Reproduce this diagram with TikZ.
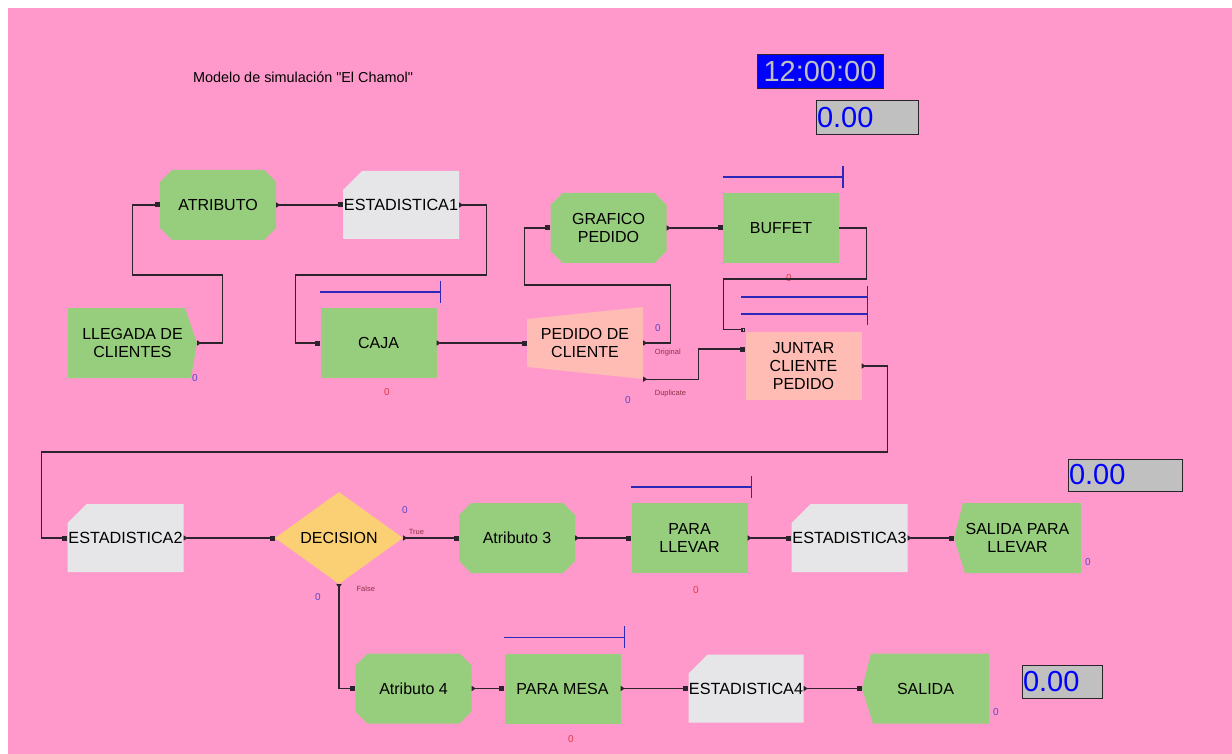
\documentclass[tikz,border=0pt]{standalone}
\usepackage{fontspec}
\setmainfont{Liberation Sans}
\usetikzlibrary{arrows.meta,shapes.geometric}

\definecolor{fondo}{RGB}{255,153,204}
\definecolor{verde}{RGB}{151,206,125}
\definecolor{gris}{RGB}{230,230,232}
\definecolor{salmon}{RGB}{255,188,180}
\definecolor{amarillo}{RGB}{251,208,116}
\definecolor{linea}{RGB}{45,35,45}
\definecolor{recursocol}{RGB}{45,40,185}
\definecolor{contaz}{RGB}{90,70,200}
\definecolor{controj}{RGB}{220,60,70}
\definecolor{etiq}{RGB}{140,50,70}
\definecolor{pantalla}{RGB}{192,192,192}

\begin{document}
\begin{tikzpicture}[x=1pt,y=-1pt,
  bloque/.style={rectangle,minimum width=116pt,minimum height=70pt,inner sep=0pt,align=center,font=\fontsize{16}{18}\selectfont},
  proceso/.style={bloque,fill=verde},
  asignar/.style={bloque,path picture={\fill[verde] ([xshift=12pt]path picture bounding box.north west) -- ([xshift=-12pt]path picture bounding box.north east) -- ([yshift=-12pt]path picture bounding box.north east) -- ([yshift=12pt]path picture bounding box.south east) -- ([xshift=-12pt]path picture bounding box.south east) -- ([xshift=12pt]path picture bounding box.south west) -- ([yshift=12pt]path picture bounding box.south west) -- ([yshift=-12pt]path picture bounding box.north west) -- cycle;}},
  registro/.style={bloque,minimum height=68pt,font=\fontsize{16.2}{18}\selectfont,path picture={\fill[gris] ([xshift=19pt]path picture bounding box.north west) -- (path picture bounding box.north east) -- (path picture bounding box.south east) -- (path picture bounding box.south west) -- ([yshift=-19pt]path picture bounding box.north west) -- cycle;}},
  llegar/.style={bloque,minimum width=129pt,path picture={\fill[verde] (path picture bounding box.north west) -- ([xshift=-12pt]path picture bounding box.north east) -- (path picture bounding box.east) -- ([xshift=-6pt]path picture bounding box.south east) -- (path picture bounding box.south west) -- cycle;}},
  salir/.style={bloque,minimum width=127pt,path picture={\fill[verde] ([xshift=9pt]path picture bounding box.north west) -- (path picture bounding box.north east) -- (path picture bounding box.south east) -- ([xshift=11pt]path picture bounding box.south west) -- (path picture bounding box.west) -- cycle;}},
  separar/.style={bloque,minimum height=72pt,path picture={\fill[salmon] ([yshift=-12pt]path picture bounding box.north west) -- (path picture bounding box.north east) -- (path picture bounding box.south east) -- ([yshift=12pt]path picture bounding box.south west) -- cycle;}},
  juntar/.style={bloque,minimum height=68pt,fill=salmon},
  decide/.style={diamond,aspect=1.4,minimum width=128pt,minimum height=92pt,inner sep=0pt,fill=amarillo,font=\fontsize{16}{18}\selectfont},
  conn/.style={linea,line width=1.3pt,{Triangle[reversed,length=4pt,width=5pt]}-{Square[length=5pt,width=5pt]}},
  recurso/.style={recursocol,line width=1.5pt},
  etiqueta/.style={etiq,font=\fontsize{7.5}{8}\selectfont,inner sep=0pt,anchor=west},
  cuenta/.style={font=\fontsize{10}{10}\selectfont,inner sep=0pt},
  pantallita/.style={fill=pantalla,draw=linea,line width=1pt,minimum height=34pt,inner xsep=1pt,inner ysep=0pt,align=left,text=blue,font=\fontsize{29}{30}\selectfont}
]
\fill[white] (0,0) rectangle (1232,754);
\useasboundingbox (0,0) rectangle (1232,754);
\fill[fondo] (8,8) rectangle (1232,754);

% titulo y relojes
\node[font=\fontsize{14.4}{15}\selectfont,inner sep=0pt] (titulo) at (303,77) {Modelo de simulación \textquotedbl El Chamol\textquotedbl};
\node[fill=blue,draw=linea,line width=1pt,minimum width=126pt,minimum height=34pt,inner sep=0pt,text=pantalla,font=\fontsize{29}{30}\selectfont] (reloj) at (820,72) {12:00:00};
\node[pantallita,text width=100pt] (valor1) at (867,118) {0.00};
\node[pantallita,text width=112pt,minimum height=32pt] (valor2) at (1125,475) {0.00};
\node[pantallita,text width=78pt,minimum height=33pt] (valor3) at (1062,681.5) {0.00};

% primera fila
\node[llegar] (llegada) at (132.5,343) {LLEGADA DE\\CLIENTES};
\node[asignar] (atributo) at (218,205) {ATRIBUTO};
\node[registro] (est1) at (401,205) {ESTADISTICA1};
\node[proceso] (caja) at (378.5,343) {CAJA};
\node[separar] (pedido) at (585,343) {PEDIDO DE\\CLIENTE};
\node[asignar] (grafico) at (608.5,228) {GRAFICO\\PEDIDO};
\node[proceso] (buffet) at (781,228) {BUFFET};
\node[juntar] (junta) at (803.5,366) {JUNTAR\\CLIENTE\\PEDIDO};

% segunda fila
\node[registro] (est2) at (125.5,538) {ESTADISTICA2};
\node[decide] (decision) at (339,538) {DECISION};
\node[asignar] (atr3) at (517,538) {Atributo 3};
\node[proceso] (llevar) at (689.5,538) {PARA\\LLEVAR};
\node[registro] (est3) at (849.5,538) {ESTADISTICA3};
\node[salir] (salll) at (1017.5,538) {SALIDA PARA\\LLEVAR};

% tercera fila
\node[asignar] (atr4) at (413.5,688.5) {Atributo 4};
\node[proceso] (mesa) at (562.5,688.5) {PARA MESA};
\node[registro,minimum width=115pt] (est4) at (746,688.5) {ESTADISTICA4};
\node[salir] (salida) at (925.5,688.5) {SALIDA};

% contadores
\node[cuenta,contaz] (c1) at (195,378) {0};
\node[cuenta,controj] (c2) at (387,392) {0};
\node[cuenta,contaz] (c3) at (658,328) {0};
\node[cuenta,contaz] (c4) at (628,400) {0};
\node[cuenta,controj] (c5) at (789,278) {0};
\node[cuenta,contaz] (c6) at (405,510) {0};
\node[cuenta,contaz] (c7) at (318,597) {0};
\node[cuenta,controj] (c8) at (696,590) {0};
\node[cuenta,contaz] (c9) at (1088,562) {0};
\node[cuenta,controj] (c10) at (571,739) {0};
\node[cuenta,contaz] (c11) at (996,712) {0};

% recursos
\foreach \n in {caja,buffet,llevar,mesa}
  \draw[recurso] ([yshift=16pt]\n.north west) -- ++(120,0) ++(0,-11) -- ++(0,22);
\draw[recurso] ([xshift=-4pt,yshift=35pt]junta.north west) -- ++(126,0);
\draw[recurso] ([xshift=-4pt,yshift=18pt]junta.north west) -- ++(126,0);
\draw[recurso] ([xshift=122pt,yshift=46pt]junta.north west) -- ++(0,39);

% conexiones
\draw[conn] (llegada.east) -- ++(25,0) -- ++(0,-68) -| ([xshift=-27pt]atributo.west) -- (atributo.west);
\draw[conn] (atributo.east) -- (est1.west);
\draw[conn] (est1.east) -- ++(27,0) -- ++(0,70) -| ([xshift=-25pt]caja.west) -- (caja.west);
\draw[conn] (caja.east) -- (pedido.west);
\draw[conn] (pedido.east) node[etiqueta,xshift=11pt,yshift=-10pt] {Original} -- ++(27,0) -- ++(0,-58) -| ([xshift=-26pt]grafico.west) -- (grafico.west);
\draw[conn] (pedido.south east) node[etiqueta,xshift=11pt,yshift=-14pt] {Duplicate} -- ++(55,0) |- ([yshift=17pt]junta.west);
\draw[conn] (grafico.east) -- (buffet.west);
\draw[conn,-{Square[open,length=4pt,width=4pt]}] (buffet.east) -- ++(27,0) -- ++(0,51) -| ([xshift=-22pt,yshift=2pt]junta.north west) -- ([yshift=2pt]junta.north west);
\draw[conn] (junta.east) -- ++(26,0) -- ++(0,86) -| ([xshift=-26pt]est2.west) -- (est2.west);
\draw[conn] (est2.east) -- (decision.west);
\draw[conn] (decision.east) node[etiqueta,xshift=5pt,yshift=6pt] {True} -- (atr3.west);
\draw[conn] (decision.south) node[etiqueta,xshift=17pt,yshift=-5pt] {False} |- (atr4.west);
\draw[conn] (atr3.east) -- (llevar.west);
\draw[conn] (llevar.east) -- (est3.west);
\draw[conn] (est3.east) -- (salll.west);
\draw[conn] (atr4.east) -- (mesa.west);
\draw[conn] (mesa.east) -- (est4.west);
\draw[conn] (est4.east) -- (salida.west);
\end{tikzpicture}
\end{document}
